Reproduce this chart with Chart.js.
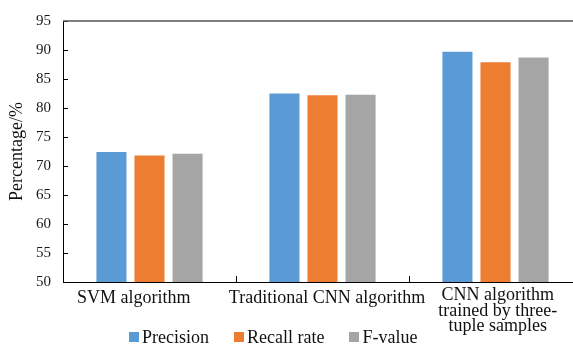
<!DOCTYPE html>
<html>
<head>
<meta charset="utf-8">
<script src="https://cdn.jsdelivr.net/npm/chart.js@4.4.0/dist/chart.umd.min.js"></script>
<style>
    html, body { margin: 0; padding: 0; background: #fff; overflow: hidden; }
    #wrap { position: relative; width: 573px; height: 347px; overflow: hidden; }
    #chart-1 { position: absolute; left: 0; top: 0; }
    #legend {
        position: absolute; left: 129px; top: 328px;
        display: flex; align-items: center;
        font-family: "Liberation Serif", "Times New Roman", serif;
        font-size: 18px; line-height: 18px; color: #111;
    }
    #legend .item { display: flex; align-items: center; margin-right: 25px; }
    #legend .box { width: 10px; height: 10px; margin-right: 3px; }
</style>
</head>
<body>
<div id="wrap">
    <canvas id="chart-1" width="590" height="347"></canvas>
    <div id="legend"></div>
</div>
<script>
// Dữ liệu biểu đồ (khoảng trắng để lệch nhãn giống bản gốc)
const categories = ['SVM algorithm       ', '  Traditional CNN algorithm', [' CNN algorithm', ' trained by three-', ' tuple samples']];
const seriesNames = ['Precision', 'Recall rate', 'F-value'];
const precision = [72.4, 82.5, 89.7];
const recallRate = [71.8, 82.2, 87.9];
const fValue = [72.1, 82.3, 88.7];
const yTicks = [50, 55, 60, 65, 70, 75, 80, 85, 90, 95];
const colors = ['#5B9BD5', '#ED7D31', '#A5A5A5'];

const serif = '"Liberation Serif", "Times New Roman", serif';

// Vạch chia hướng vào trong + đường viền trên
const innerTicks = {
    id: 'innerTicks',
    afterDatasetsDraw(chart) {
        const {ctx, chartArea, scales} = chart;
        ctx.save();
        ctx.strokeStyle = '#000';
        ctx.lineWidth = 1;
        scales.y.ticks.forEach(t => {
            const y = Math.round(scales.y.getPixelForValue(t.value)) + 0.5;
            ctx.beginPath();
            ctx.moveTo(chartArea.left, y);
            ctx.lineTo(chartArea.left + 5, y);
            ctx.stroke();
        });
        for (let i = 1; i < categories.length; i++) {
            const x = Math.round((scales.x.getPixelForValue(i - 1) + scales.x.getPixelForValue(i)) / 2) + 0.5;
            ctx.beginPath();
            ctx.moveTo(x, chartArea.bottom);
            ctx.lineTo(x, chartArea.bottom - 6);
            ctx.stroke();
        }
        ctx.strokeStyle = '#555';
        ctx.lineWidth = 1.6;
        ctx.beginPath();
        ctx.moveTo(chartArea.left, chartArea.top);
        ctx.lineTo(chartArea.right, chartArea.top);
        ctx.stroke();
        ctx.restore();
    }
};

const ctx = document.getElementById('chart-1').getContext('2d');

const chart = new Chart(ctx, {
    type: 'bar',
    data: {
        labels: categories,
        datasets: [precision, recallRate, fValue].map((values, i) => ({
            label: seriesNames[i],
            data: values,
            backgroundColor: colors[i],
            borderWidth: 0,
            categoryPercentage: 0.66,
            barPercentage: 0.79
        }))
    },
    options: {
        responsive: false,
        animation: false,
        layout: {padding: {top: 13, right: 8, left: 0, bottom: 0}},
        plugins: {
            legend: {display: false},
            tooltip: {enabled: false}
        },
        scales: {
            x: {
                grid: {display: false, drawTicks: false},
                border: {display: true, color: '#000', width: 1},
                ticks: {
                    color: '#111',
                    padding: 6,
                    maxRotation: 0,
                    autoSkip: false,
                    font: c => ({family: serif, size: 18, lineHeight: c.index === 2 ? 0.86 : 1.09})
                },
                afterFit: scale => { scale.height = 65; }
            },
            y: {
                min: 50,
                max: 95,
                grid: {display: false, drawTicks: false},
                border: {display: true, color: '#000', width: 1},
                afterBuildTicks: scale => { scale.ticks = yTicks.map(v => ({value: v})); },
                ticks: {
                    color: '#1a1a1a',
                    padding: 12,
                    font: {family: serif, size: 15}
                },
                title: {
                    display: true,
                    text: 'Percentage/%',
                    color: '#111',
                    padding: {top: 6, bottom: 0},
                    font: {family: serif, size: 18}
                },
                afterFit: scale => { scale.width = 63; }
            }
        }
    },
    plugins: [innerTicks]
});

// Chú thích dạng HTML
const legendEl = document.getElementById('legend');
chart.data.datasets.forEach(ds => {
    const item = document.createElement('div');
    item.className = 'item';
    const box = document.createElement('span');
    box.className = 'box';
    box.style.background = ds.backgroundColor;
    const text = document.createElement('span');
    text.textContent = ds.label;
    item.appendChild(box);
    item.appendChild(text);
    legendEl.appendChild(item);
});
</script>
</body>
</html>
